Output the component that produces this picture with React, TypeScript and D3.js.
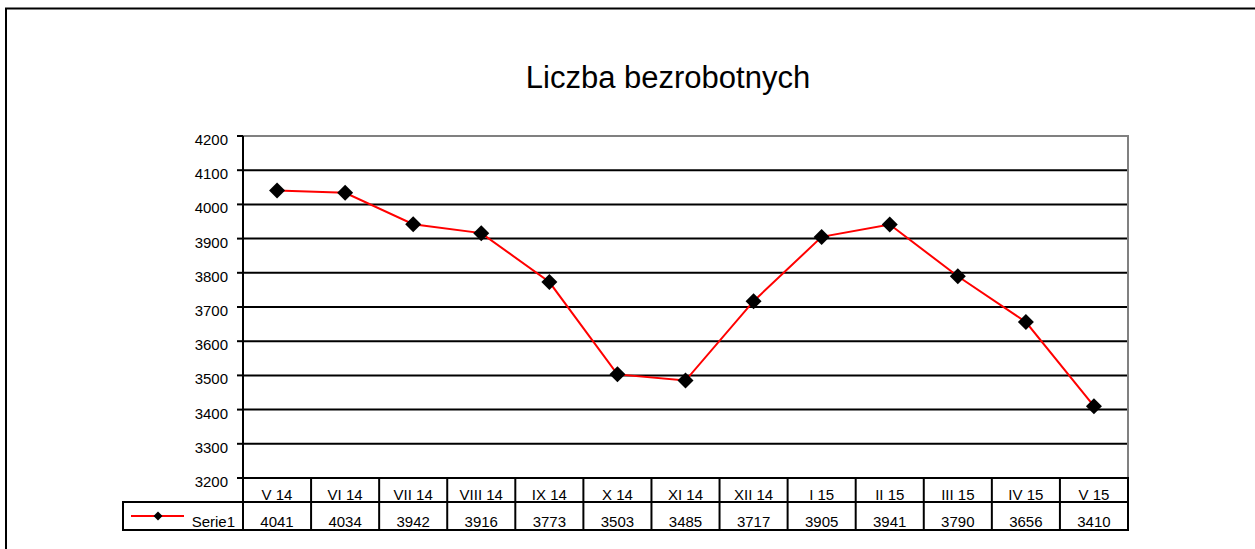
import React, { useEffect, useRef } from 'react';
import * as d3 from 'd3';

const title = 'Liczba bezrobotnych';
const seriesName = 'Serie1';
const categories = ['V 14', 'VI 14', 'VII 14', 'VIII 14', 'IX 14', 'X 14', 'XI 14', 'XII 14', 'I 15', 'II 15', 'III 15', 'IV 15', 'V 15'];
const values = [4041, 4034, 3942, 3916, 3773, 3503, 3485, 3717, 3905, 3941, 3790, 3656, 3410];
const yTicks = [3200, 3300, 3400, 3500, 3600, 3700, 3800, 3900, 4000, 4100, 4200];

const W = 1255;
const H = 549;

const App: React.FC = () => {
  const svgRef = useRef<SVGSVGElement>(null);

  useEffect(() => {
    if (!svgRef.current) return;
    const svg = d3.select(svgRef.current);
    svg.selectAll('*').remove();

    const plot = { left: 243, right: 1128, top: 136, bottom: 478 };
    const rowH1 = 24;
    const rowH2 = 28;
    const legendLeft = 123;
    const font = 'Arial, "Liberation Sans", sans-serif';
    const small = '15px';

    const x = d3.scaleBand<string>().domain(categories).range([plot.left, plot.right]).padding(0);
    const y = d3.scaleLinear().domain([3200, 4200]).range([plot.bottom, plot.top]);
    const cx = (i: number) => (x(categories[i]) as number) + x.bandwidth() / 2;

    // outer frame (runs off the right/bottom of the page)
    svg.append('rect')
      .attr('x', 6).attr('y', 8.5)
      .attr('width', W + 20).attr('height', H + 20)
      .attr('fill', 'none').attr('stroke', '#000').attr('stroke-width', 2);

    // title
    svg.append('text')
      .attr('x', 668).attr('y', 88)
      .attr('text-anchor', 'middle')
      .style('font-family', font).style('font-size', '31px')
      .text(title);

    // grid lines
    svg.append('g')
      .selectAll('line')
      .data(yTicks.filter(t => t > 3200 && t < 4200))
      .enter()
      .append('line')
      .attr('x1', plot.left).attr('x2', plot.right)
      .attr('y1', d => y(d)).attr('y2', d => y(d))
      .attr('stroke', '#000').attr('stroke-width', 2);

    // plot area top/right border (gray)
    svg.append('path')
      .attr('d', `M${plot.left},${y(4200)}H${plot.right}V${plot.bottom}`)
      .attr('fill', 'none').attr('stroke', '#808080').attr('stroke-width', 2);

    // y axis
    const yAxis = svg.append('g');
    yAxis.append('line')
      .attr('x1', plot.left).attr('x2', plot.left)
      .attr('y1', plot.top).attr('y2', plot.bottom)
      .attr('stroke', '#000').attr('stroke-width', 2);
    yAxis.selectAll('line.tick')
      .data(yTicks)
      .enter()
      .append('line')
      .attr('class', 'tick')
      .attr('x1', plot.left - 6).attr('x2', plot.left)
      .attr('y1', d => y(d)).attr('y2', d => y(d))
      .attr('stroke', '#000').attr('stroke-width', 2);
    yAxis.selectAll('text')
      .data(yTicks)
      .enter()
      .append('text')
      .attr('x', plot.left - 15)
      .attr('y', d => y(d) + 9)
      .attr('text-anchor', 'end')
      .style('font-family', font).style('font-size', small)
      .text(d => d);

    // series line
    const line = d3.line<number>()
      .x((_, i) => cx(i))
      .y(d => y(d));
    svg.append('path')
      .datum(values)
      .attr('d', line)
      .attr('fill', 'none').attr('stroke', '#ff0000').attr('stroke-width', 2);

    const diamond = d3.symbol().type(d3.symbolSquare).size(128);
    svg.append('g')
      .selectAll('path')
      .data(values)
      .enter()
      .append('path')
      .attr('d', diamond)
      .attr('transform', (d, i) => `translate(${cx(i)},${y(d)}) rotate(45)`)
      .attr('fill', '#000');

    // data table
    const t = svg.append('g');
    const r1 = plot.bottom;
    const r2 = plot.bottom + rowH1;
    const r3 = r2 + rowH2;
    t.append('rect')
      .attr('x', plot.left).attr('y', r1)
      .attr('width', plot.right - plot.left).attr('height', rowH1 + rowH2)
      .attr('fill', 'none').attr('stroke', '#000').attr('stroke-width', 2);
    t.append('rect')
      .attr('x', legendLeft).attr('y', r2)
      .attr('width', plot.left - legendLeft).attr('height', rowH2)
      .attr('fill', 'none').attr('stroke', '#000').attr('stroke-width', 2);
    t.append('line')
      .attr('x1', plot.left).attr('x2', plot.right)
      .attr('y1', r2).attr('y2', r2)
      .attr('stroke', '#000').attr('stroke-width', 2);
    t.selectAll('line.col')
      .data(categories.slice(1))
      .enter()
      .append('line')
      .attr('class', 'col')
      .attr('x1', d => x(d) as number).attr('x2', d => x(d) as number)
      .attr('y1', r1).attr('y2', r3)
      .attr('stroke', '#000').attr('stroke-width', 2);
    t.selectAll('text.cat')
      .data(categories)
      .enter()
      .append('text')
      .attr('class', 'cat')
      .attr('x', d => (x(d) as number) + x.bandwidth() / 2)
      .attr('y', r1 + 22)
      .attr('text-anchor', 'middle')
      .style('font-family', font).style('font-size', small)
      .text(d => d);
    t.selectAll('text.val')
      .data(values)
      .enter()
      .append('text')
      .attr('class', 'val')
      .attr('x', (_, i) => cx(i))
      .attr('y', r2 + 25)
      .attr('text-anchor', 'middle')
      .style('font-family', font).style('font-size', small)
      .text(d => d);

    // legend key
    const ky = r2 + 14;
    t.append('line')
      .attr('x1', 131).attr('x2', 184)
      .attr('y1', ky).attr('y2', ky)
      .attr('stroke', '#ff0000').attr('stroke-width', 2);
    t.append('path')
      .attr('d', d3.symbol().type(d3.symbolSquare).size(40)())
      .attr('transform', `translate(158,${ky}) rotate(45)`)
      .attr('fill', '#000');
    t.append('text')
      .attr('x', plot.left - 8).attr('y', r2 + 25)
      .attr('text-anchor', 'end')
      .style('font-family', font).style('font-size', small)
      .text(seriesName);
  }, []);

  return (
    <svg
      ref={svgRef}
      width={W}
      height={H}
      style={{ position: 'absolute', left: 0, top: 0, display: 'block', background: '#fff' }}
    />
  );
};

export default App;
